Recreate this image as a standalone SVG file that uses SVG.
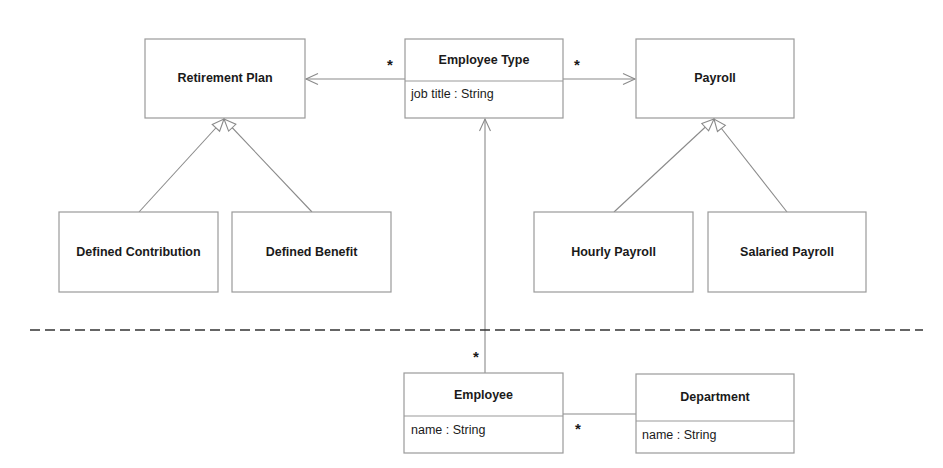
<svg xmlns="http://www.w3.org/2000/svg" width="943" height="468" viewBox="0 0 943 468">
<style>
.box{fill:#fff;stroke:#9a9a9a;stroke-width:1.2}
.div{stroke:#9a9a9a;stroke-width:1.2}
.t{font-family:"Liberation Sans",Arial,sans-serif;font-size:12.5px;font-weight:bold;fill:#1a1a1a;text-anchor:middle}
.a{font-family:"Liberation Sans",Arial,sans-serif;font-size:12.5px;fill:#1a1a1a}
.m{font-family:"Liberation Sans",Arial,sans-serif;font-size:15px;font-weight:bold;fill:#1a1a1a;text-anchor:middle}
.c{stroke:#8a8a8a;stroke-width:1.1;fill:none}
</style>
<defs>
<marker id="open" markerUnits="userSpaceOnUse" viewBox="-1 -7 15 14" refX="12" refY="0" markerWidth="15" markerHeight="14" orient="auto">
<path d="M0,-5.5 L12,0 L0,5.5" fill="none" stroke="#8a8a8a" stroke-width="1.1"/>
</marker>
<marker id="gen" markerUnits="userSpaceOnUse" viewBox="-1 -7 15 14" refX="12" refY="0" markerWidth="15" markerHeight="14" orient="auto">
<path d="M0,-5 L12,0 L0,5 Z" fill="#fff" stroke="#8a8a8a" stroke-width="1.1"/>
</marker>
</defs>
<rect width="943" height="468" fill="#fff"/>
<g id="connectors">
<line class="c" x1="405" y1="79" x2="306" y2="79" marker-end="url(#open)"/>
<line class="c" x1="563" y1="79" x2="635" y2="79" marker-end="url(#open)"/>
<line class="c" x1="485" y1="373" x2="485" y2="119" marker-end="url(#open)"/>
<line class="c" x1="563" y1="414" x2="636" y2="414"/>
<line class="c" x1="139" y1="212" x2="224" y2="119" marker-end="url(#gen)"/>
<line class="c" x1="312" y1="212" x2="224" y2="119" marker-end="url(#gen)"/>
<line class="c" x1="614" y1="212" x2="714" y2="119" marker-end="url(#gen)"/>
<line class="c" x1="787" y1="212" x2="714" y2="119" marker-end="url(#gen)"/>
<line x1="30" y1="330" x2="923" y2="330" stroke="#333" stroke-width="1.6" stroke-dasharray="10,5"/>
<text class="m" x="390" y="70">*</text>
<text class="m" x="577" y="70">*</text>
<text class="m" x="476" y="362">*</text>
<text class="m" x="578" y="434">*</text>
</g>
<g id="retirement-plan">
<rect class="box" x="145" y="39" width="160" height="79"/>
<text class="t" x="225" y="82">Retirement Plan</text>
</g>
<g id="employee-type">
<rect class="box" x="405" y="39" width="158" height="79"/>
<line class="div" x1="405" y1="81" x2="563" y2="81"/>
<text class="t" x="484" y="64">Employee Type</text>
<text class="a" x="411" y="98">job title : String</text>
</g>
<g id="payroll">
<rect class="box" x="636" y="39" width="158" height="79"/>
<text class="t" x="715" y="82">Payroll</text>
</g>
<g id="defined-contribution">
<rect class="box" x="59" y="212" width="159" height="80"/>
<text class="t" x="138.5" y="256">Defined Contribution</text>
</g>
<g id="defined-benefit">
<rect class="box" x="232" y="212" width="159" height="80"/>
<text class="t" x="311.5" y="256">Defined Benefit</text>
</g>
<g id="hourly-payroll">
<rect class="box" x="534" y="212" width="159" height="80"/>
<text class="t" x="613.5" y="256">Hourly Payroll</text>
</g>
<g id="salaried-payroll">
<rect class="box" x="708" y="212" width="158" height="80"/>
<text class="t" x="787" y="256">Salaried Payroll</text>
</g>
<g id="employee">
<rect class="box" x="404" y="373" width="159" height="80"/>
<line class="div" x1="404" y1="416" x2="563" y2="416"/>
<text class="t" x="483.5" y="399">Employee</text>
<text class="a" x="411" y="434">name : String</text>
</g>
<g id="department">
<rect class="box" x="636" y="374" width="158" height="79"/>
<line class="div" x1="636" y1="421" x2="794" y2="421"/>
<text class="t" x="715" y="401">Department</text>
<text class="a" x="642" y="439">name : String</text>
</g>
</svg>
